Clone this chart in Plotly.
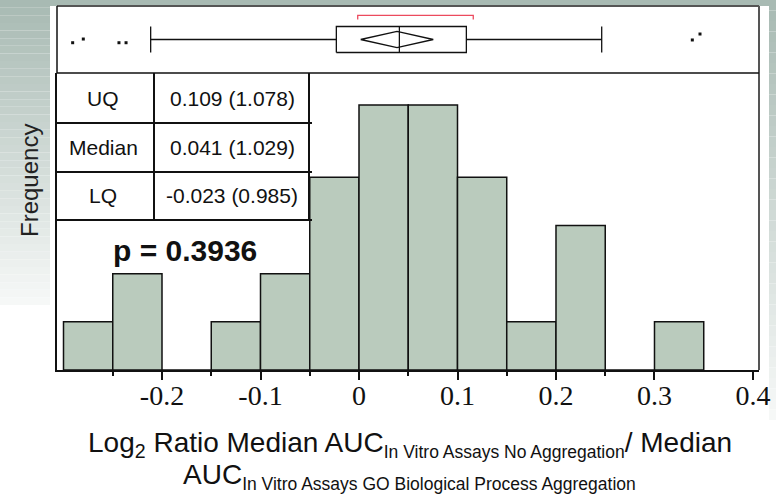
import plotly.graph_objects as go

# ---------------- data ----------------
bin_left = [-0.30, -0.25, -0.20, -0.15, -0.10, -0.05, 0.00, 0.05, 0.10, 0.15, 0.20, 0.25, 0.30]
counts = [2, 4, 0, 2, 4, 8, 11, 11, 8, 2, 6, 0, 2]
bin_width = 0.05

lq, median, uq = -0.023, 0.041, 0.109
whisker_lo, whisker_hi = -0.2115, 0.2464
mean_val, ci_lo, ci_hi = 0.0386, 0.0017, 0.0754
shortest_lo, shortest_hi = -0.0013, 0.116
outliers_x = [-0.2907, -0.2799, -0.2437, -0.2365, 0.3384, 0.3462]
outliers_y = [0.452, 0.507, 0.452, 0.452, 0.493, 0.582]

table_labels = ["UQ", "Median", "LQ"]
table_values = ["0.109 (1.078)", "0.041 (1.029)", "-0.023 (0.985)"]
p_text = "p = 0.3936"

major_ticks = [-0.2, -0.1, 0.0, 0.1, 0.2, 0.3, 0.4]
major_labels = ["-0.2", "-0.1", "0", "0.1", "0.2", "0.3", "0.4"]
minor_ticks = [-0.25, -0.15, -0.05, 0.05, 0.15, 0.25]

# ---------------- layout geometry (pixels) ----------------
W, H = 776, 494
L, R, T, B = 57, 759, 6, 370
SEP = 73
PW, PH = R - L, B - T


def X(px):
    return (px - L) / PW


def Y(py):
    return (B - py) / PH


SANS = "Liberation Sans, Arial, sans-serif"
SERIF = "Liberation Serif, Times New Roman, serif"

fig = go.Figure()

# histogram bars
centers = [b + bin_width / 2 for b in bin_left]
fig.add_trace(go.Bar(
    x=centers, y=counts, width=bin_width,
    marker=dict(color="#bacbbd", line=dict(color="#111111", width=1.5)),
    xaxis="x", yaxis="y", hoverinfo="skip", showlegend=False))

# box plot (outlier box) on top panel
bh = 0.194
c = 0.5
line_k = dict(color="#111111", width=1.3)
fig.add_trace(go.Scatter(
    x=[lq, uq, uq, lq, lq], y=[c - bh, c - bh, c + bh, c + bh, c - bh],
    mode="lines", line=line_k, xaxis="x", yaxis="y2", showlegend=False, hoverinfo="skip"))
fig.add_trace(go.Scatter(
    x=[median, median], y=[c - bh, c + bh],
    mode="lines", line=line_k, xaxis="x", yaxis="y2", showlegend=False, hoverinfo="skip"))
fig.add_trace(go.Scatter(
    x=[whisker_lo, lq, None, uq, whisker_hi, None, whisker_lo, whisker_lo, None, whisker_hi, whisker_hi],
    y=[c, c, None, c, c, None, c - bh, c + bh, None, c - bh, c + bh],
    mode="lines", line=line_k, xaxis="x", yaxis="y2", showlegend=False, hoverinfo="skip"))
dh = 0.12
fig.add_trace(go.Scatter(
    x=[ci_lo, mean_val, ci_hi, mean_val, ci_lo], y=[c, c + dh, c, c - dh, c],
    mode="lines", line=line_k, xaxis="x", yaxis="y2", showlegend=False, hoverinfo="skip"))
fig.add_trace(go.Scatter(
    x=[shortest_lo, shortest_lo, shortest_hi, shortest_hi], y=[0.80, 0.861, 0.861, 0.80],
    mode="lines", line=dict(color="#ec4a5e", width=1.3), xaxis="x", yaxis="y2",
    showlegend=False, hoverinfo="skip"))
fig.add_trace(go.Scatter(
    x=outliers_x, y=outliers_y, mode="markers",
    marker=dict(symbol="square", size=3, color="#111111"),
    xaxis="x", yaxis="y2", showlegend=False, hoverinfo="skip"))

shapes = []

# background decoration (slide gradient)
top_rgb = (168, 186, 179)
end_rgb = (246, 248, 247)


def mix(t):
    return "rgb(%d,%d,%d)" % tuple(round(a + (b - a) * t) for a, b in zip(top_rgb, end_rgb))


n = 40
for i in range(n):
    y0, y1 = 305 * i / n, 305 * (i + 1) / n
    shapes.append(dict(type="rect", xref="paper", yref="paper", x0=X(-1), x1=X(50),
                       y0=Y(y1), y1=Y(y0), fillcolor=mix(i / (n - 1)), line=dict(width=0), layer="below"))
    y0, y1 = 420 * i / n, 420 * (i + 1) / n
    shapes.append(dict(type="rect", xref="paper", yref="paper", x0=X(769), x1=X(777),
                       y0=Y(y1), y1=Y(y0), fillcolor=mix(i / (n - 1)), line=dict(width=0), layer="below"))
shapes.append(dict(type="rect", xref="paper", yref="paper", x0=X(-1), x1=X(777),
                   y0=Y(6), y1=Y(-1), fillcolor=mix(0), line=dict(width=0), layer="below"))

# frame
shapes += [
    dict(type="line", xref="paper", yref="paper", x0=0, x1=1, y0=1, y1=1, line=dict(color="#555555", width=2)),
    dict(type="line", xref="paper", yref="paper", x0=1, x1=1, y0=0, y1=1, line=dict(color="#555555", width=2)),
    dict(type="line", xref="paper", yref="paper", x0=0, x1=0, y0=Y(SEP), y1=1, line=dict(color="#111111", width=1.5)),
    dict(type="line", xref="paper", yref="paper", x0=0, x1=1, y0=Y(SEP), y1=Y(SEP), line=dict(color="#111111", width=1.5)),
]

# statistics table
row_lines = [123, 172, 220]
for ry in row_lines:
    shapes.append(dict(type="line", xref="paper", yref="paper", x0=X(55), x1=X(312),
                       y0=Y(ry), y1=Y(ry), line=dict(color="#111111", width=2)))
for cx in (154, 309):
    shapes.append(dict(type="line", xref="paper", yref="paper", x0=X(cx), x1=X(cx),
                       y0=Y(220), y1=Y(SEP), line=dict(color="#111111", width=2)))

annotations = []
row_tops = [SEP] + row_lines
for i, (lab, val) in enumerate(zip(table_labels, table_values)):
    yc = (row_tops[i] + row_tops[i + 1]) / 2
    annotations.append(dict(x=X(103), y=Y(yc), xref="paper", yref="paper", text=lab, showarrow=False,
                            xanchor="center", yanchor="middle", font=dict(family=SANS, size=21, color="#111111")))
    annotations.append(dict(x=X(232), y=Y(yc), xref="paper", yref="paper", text=val, showarrow=False,
                            xanchor="center", yanchor="middle", font=dict(family=SANS, size=21, color="#111111")))

annotations.append(dict(x=X(185), y=Y(250), xref="paper", yref="paper", text="<b>" + p_text + "</b>",
                        showarrow=False, xanchor="center", yanchor="middle",
                        font=dict(family=SANS, size=30, color="#111111")))

annotations.append(dict(x=X(30), y=Y(181), xref="paper", yref="paper", text="Frequency", textangle=-90,
                        showarrow=False, xanchor="center", yanchor="middle",
                        font=dict(family=SANS, size=24, color="#222222")))

SUB = '<sub><span style="font-size:17.5px">%s</span></sub>'
annotations.append(dict(x=X(410), y=Y(444), xref="paper", yref="paper",
                        text="Log<sub>2</sub> Ratio Median AUC" + SUB % "In Vitro Assays No Aggregation" + "/ Median",
                        showarrow=False, xanchor="center", yanchor="middle",
                        font=dict(family=SANS, size=28, color="#111111")))
annotations.append(dict(x=X(409), y=Y(476), xref="paper", yref="paper",
                        text="AUC" + SUB % "In Vitro Assays GO Biological Process Aggregation",
                        showarrow=False, xanchor="center", yanchor="middle",
                        font=dict(family=SANS, size=28, color="#111111")))

fig.update_layout(
    width=W, height=H,
    margin=dict(l=L, r=W - R, t=T, b=H - B, pad=0),
    paper_bgcolor="white", plot_bgcolor="white",
    showlegend=False,
    xaxis=dict(range=[-0.3066, 0.4061], tickmode="array", tickvals=major_ticks, ticktext=major_labels,
               ticks="outside", ticklen=8, tickwidth=1.5, tickcolor="#111111",
               minor=dict(tickvals=minor_ticks, ticks="outside", ticklen=4, tickwidth=1.5, tickcolor="#111111"),
               showline=True, linecolor="#111111", linewidth=1.5, showgrid=False, zeroline=False,
               ticklabelstandoff=-8,
               tickfont=dict(family=SERIF, size=28, color="#111111"), anchor="y"),
    yaxis=dict(domain=[0, Y(SEP)], range=[0, 12.33], showticklabels=False, ticks="", showgrid=False,
               zeroline=False, showline=True, linecolor="#111111", linewidth=1.5),
    yaxis2=dict(domain=[Y(SEP), 1], range=[0, 1], visible=False, anchor="x"),
    shapes=shapes, annotations=annotations,
)

fig.write_html("out.html", config={"displayModeBar": False},
               post_script="document.body.style.margin='0px';")
